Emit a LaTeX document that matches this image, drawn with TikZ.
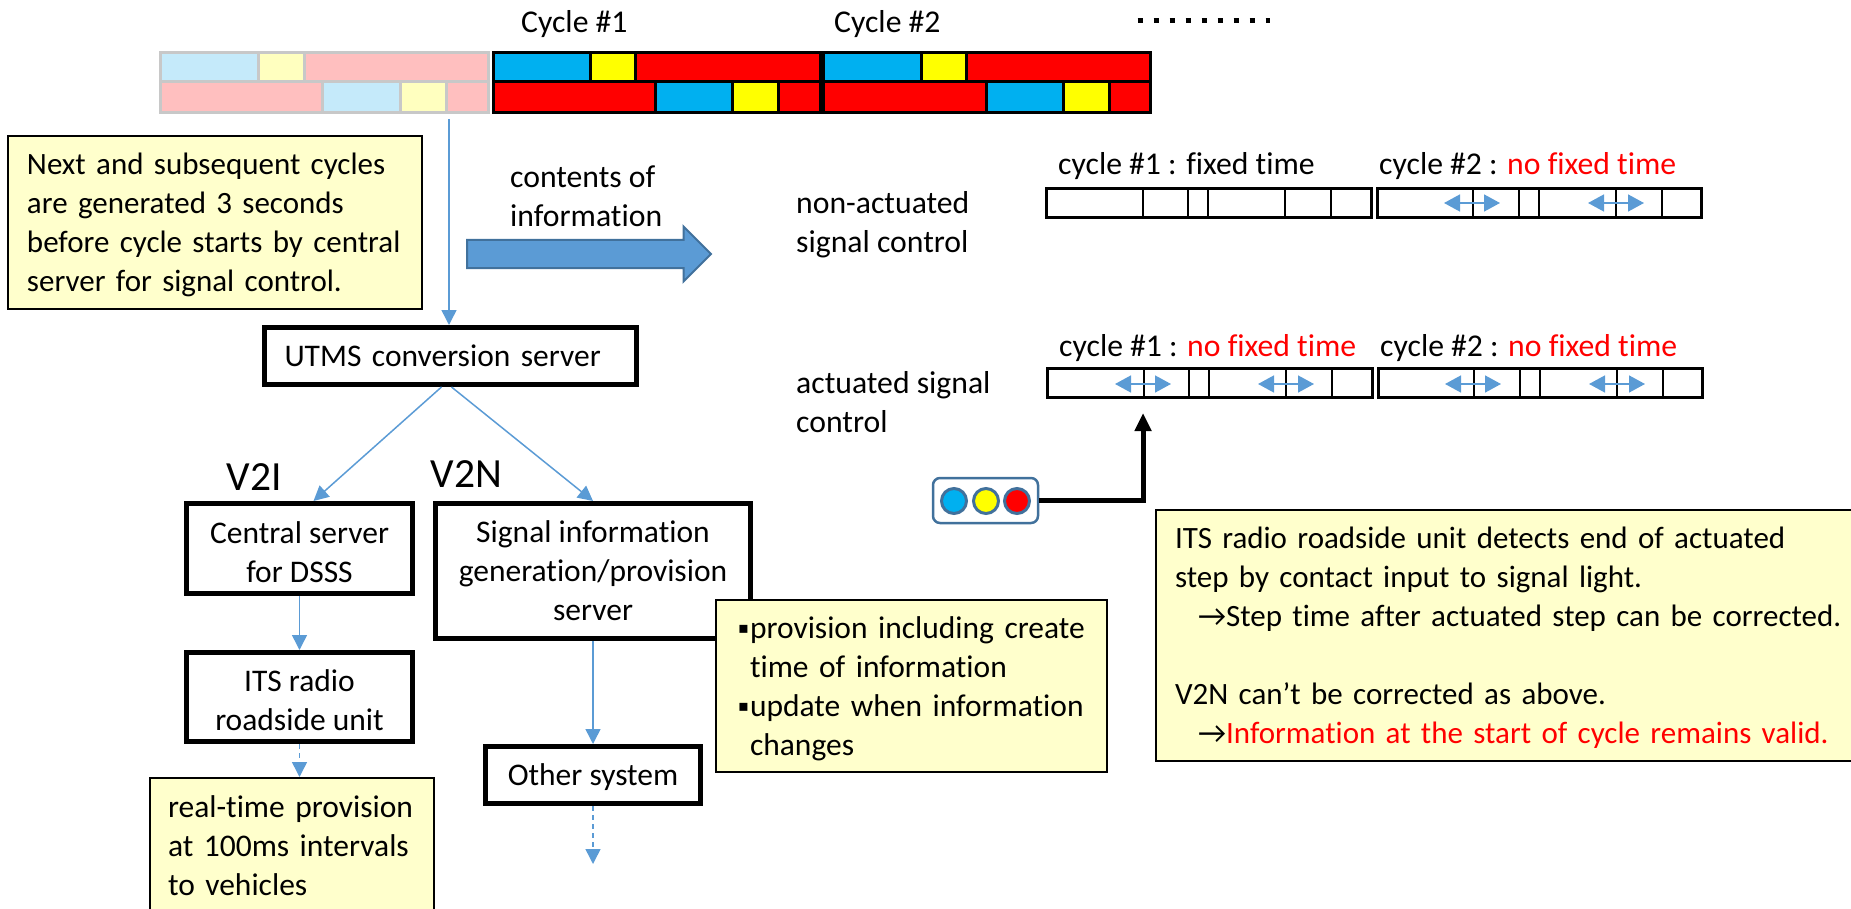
\documentclass[tikz,border=0pt]{standalone}
\usepackage{fontspec}
\setmainfont[Ligatures=NoCommon]{Carlito}
\newfontfamily\dejavu{DejaVu Sans}
\usetikzlibrary{arrows.meta,positioning,shapes.arrows}

\definecolor{sigblue}{HTML}{00B0F0}
\definecolor{sigyellow}{HTML}{FFFF00}
\definecolor{sigred}{HTML}{FF0000}
\definecolor{ghostblue}{HTML}{C5EAFA}
\definecolor{ghostyellow}{HTML}{FFFFBF}
\definecolor{ghostred}{HTML}{FFBFBF}
\definecolor{ghostline}{HTML}{C8C8C8}
\definecolor{notefill}{HTML}{FFFFCC}
\definecolor{flowblue}{HTML}{5B9BD5}
\definecolor{edgeblue}{HTML}{41719C}

\newcommand{\tick}{\leavevmode\llap{\raisebox{5pt}{\dejavu\fontsize{16}{16}\selectfont ▪}\hspace{1pt}}}
\newcommand{\lift}{\rule{0pt}{29pt}}

\tikzset{
  lined/.style={font=\fontsize{31}{39}\selectfont,execute at begin node={\rule{0pt}{29pt}},execute at end node={\rule[-8pt]{0pt}{8pt}}},
  txt/.style={lined,font=\fontsize{31.7}{39}\selectfont,inner sep=0pt,align=left},
  cell/.style={draw=black,line width=3pt},
  ghostcell/.style={draw=ghostline,line width=3pt},
  bar/.style={draw=black,line width=3pt},
  divider/.style={draw=black,line width=2pt},
  flowbox/.style={lined,font=\fontsize{31.5}{39}\selectfont,draw=black,line width=5pt,fill=white,align=center,inner sep=0pt},
  notebox/.style={lined,draw=black,line width=2pt,fill=notefill,align=left,inner ysep=0pt,inner xsep=18pt,anchor=north west},
  flow/.style={draw=flowblue,line width=1.5pt,-{Triangle[length=15pt,width=15pt]}},
  flowdash/.style={flow,dash pattern=on 5pt off 4pt},
  adjust/.style={draw=flowblue,line width=1.5pt,{Triangle[length=16pt,width=17pt]}-{Triangle[length=16pt,width=17pt]}},
  lampdot/.style={draw=edgeblue,line width=3pt,shape=circle,inner sep=0pt,minimum size=25pt}
}

\begin{document}
\begin{tikzpicture}[x=1pt,y=-1pt]
\useasboundingbox (0,0) rectangle (1851,909);
\clip (0,0) rectangle (1851,909);

\node[txt,anchor=west] (c1) at (521,22.5) {Cycle \#1};
\node[txt,anchor=west] (c2) at (834,22.5) {Cycle \#2};
\coordinate (dotsa) at (1137.5,21);
\coordinate (dotsb) at (1270,21);
\draw[line width=5pt,dash pattern=on 5pt off 11pt] (dotsa) -- (dotsb);

\foreach \xa/\xb/\col in {160/258/ghostblue,258/304/ghostyellow,304/488/ghostred}
  \draw[ghostcell,fill=\col] (\xa,53) rectangle (\xb,82);
\foreach \xa/\xb/\col in {160/322/ghostred,322/400/ghostblue,400/446/ghostyellow,446/488/ghostred}
  \draw[ghostcell,fill=\col] (\xa,82) rectangle (\xb,113);
\foreach \xa/\xb/\col in {493/590/sigblue,590/635/sigyellow,635/820/sigred}
  \draw[cell,fill=\col] (\xa,53) rectangle (\xb,82);
\foreach \xa/\xb/\col in {493/655/sigred,655/732/sigblue,732/778/sigyellow,778/820/sigred}
  \draw[cell,fill=\col] (\xa,82) rectangle (\xb,113);
\foreach \xa/\xb/\col in {823/921/sigblue,921/966/sigyellow,966/1150/sigred}
  \draw[cell,fill=\col] (\xa,53) rectangle (\xb,82);
\foreach \xa/\xb/\col in {823/986/sigred,986/1063/sigblue,1063/1109/sigyellow,1109/1150/sigred}
  \draw[cell,fill=\col] (\xa,82) rectangle (\xb,113);

\node[notebox,text width=376pt,inner xsep=19pt,minimum height=173pt] (gen) at (7,135) {Next and subsequent cycles\\are generated 3 seconds\\before cycle starts by central\\server for signal control.};

\node[flowbox,text width=332pt,inner xsep=20pt,minimum height=57pt,align=left] (utms) at (450.5,356) {UTMS conversion server};
\coordinate (feed) at (449,119);
\draw[flow] (feed) -- (feed |- utms.north);

\node[txt,anchor=west] (info) at (510,196.3) {\lift contents of\\information};
\node[single arrow,draw=edgeblue,line width=2pt,fill=flowblue,inner xsep=0pt,inner ysep=13pt,minimum height=244pt,minimum width=53pt,single arrow head extend=13.5pt,single arrow head indent=0pt,anchor=west] (content) at (466,254) {};

\node[txt,anchor=west] (nonact) at (796,222.3) {\lift non-actuated\\signal control};
\node[txt,anchor=west] (act) at (796,402.3) {\lift actuated signal\\control};

\node[txt,anchor=west] (a1) at (1058,164.5) {cycle \#1 : fixed time};
\node[txt,anchor=west] (a2) at (1379,164.5) {cycle \#2 : \textcolor{red}{no fixed time}};
\node[txt,anchor=west] (b1) at (1059,346.2) {cycle \#1 : \textcolor{red}{no fixed time}};
\node[txt,anchor=west] (b2) at (1380,346.2) {cycle \#2 : \textcolor{red}{no fixed time}};

\foreach \y/\s in {189/0,368/1} {
  \draw[bar] (1046+\s,\y) rectangle (1371+\s,\y+29);
  \draw[bar] (1377+\s,\y) rectangle (1701+\s,\y+29);
  \foreach \x in {1143,1188,1207.5,1285,1330.5,1473,1519,1538.5,1616,1662}
    \draw[divider] (\x+\s,\y) -- (\x+\s,\y+29);
}
\foreach \x/\y in {1472/203,1616/203,1143/384,1286/384,1473/384,1617/384} {
  \coordinate (adja) at (\x-28,\y);
  \coordinate (adjb) at (\x+28,\y);
  \draw[adjust] (adja) -- (adjb);
}

\node[draw=edgeblue,line width=2.5pt,fill=white,rounded corners=7pt,minimum width=105pt,minimum height=45pt] (lamp) at (985.5,500.5) {};
\node[lampdot,fill=sigblue] (l1) at (954,501) {};
\node[lampdot,fill=sigyellow] (l2) at (986,501) {};
\node[lampdot,fill=sigred] (l3) at (1017,501) {};
\coordinate (step) at (1143,413);
\draw[line width=5pt,-{Triangle[length=18pt,width=16pt]}] (lamp.east) -| (step);

\node[txt,anchor=center,font=\fontsize{41.5}{39}\selectfont] (v2i) at (254.5,479.5) {V2I};
\node[txt,anchor=center,font=\fontsize{41.5}{39}\selectfont] (v2n) at (466.5,476.8) {V2N};

\node[flowbox,minimum width=226pt,minimum height=90pt] (central) at (299.5,548.5) {\rule{0pt}{36pt}Central server\\for DSSS};
\node[flowbox,minimum width=226pt,minimum height=89pt,below = 54pt of central] (its) {\rule{0pt}{36pt}ITS radio\\roadside unit};
\node[flowbox,minimum width=315pt,minimum height=135pt] (sigsrv) at (593,571) {\lift Signal information\\generation/provision\\server};
\node[flowbox,minimum width=215pt,minimum height=57pt,below = 103pt of sigsrv] (other) {Other system};
\coordinate (out) at (593,864);

\node[notebox,font=\fontsize{31.5}{39}\selectfont,text width=248pt,minimum height=136pt] (real) at (149,777) {real-time provision\\at 100ms intervals\\to vehicles};
\node[notebox,font=\fontsize{31.5}{39}\selectfont,text width=359pt,inner xsep=16pt,minimum height=172pt] (prov) at (715,599) {\hspace*{18pt}\tick provision including create\\\hspace*{18pt}time of information\\\hspace*{18pt}\tick update when information\\\hspace*{18pt}changes};
\node[notebox,text width=680pt,inner xsep=19pt,minimum height=251pt] (detect) at (1155,509) {ITS radio roadside unit detects end of actuated\\step by contact input to signal light.\\\hspace*{23pt}→Step time after actuated step can be corrected.\\[39pt]V2N can’t be corrected as above.\\\hspace*{23pt}→\textcolor{red}{Information at the start of cycle remains valid.}};

\draw[flow] ([xshift=-9pt]utms.south) -- ([xshift=14pt]central.north);
\draw[flow] ([xshift=1pt]utms.south) -- (sigsrv.north);
\draw[flow] (central) -- (its);
\draw[flow] (sigsrv.south -| other) -- (other.north);
\draw[flowdash] (its.south) -- (its.south |- real.north);
\draw[flowdash] (other.south) -- (out);
\end{tikzpicture}
\end{document}
